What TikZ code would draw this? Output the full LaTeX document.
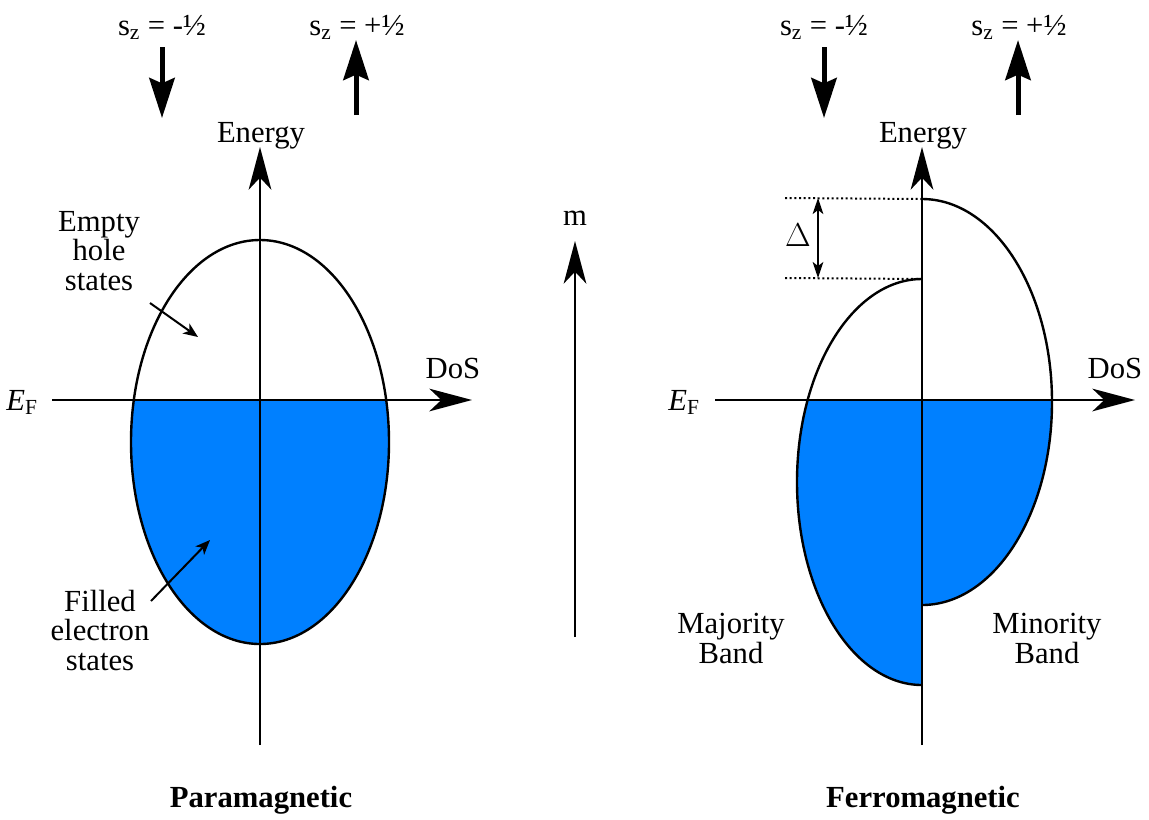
\documentclass[tikz,border=0pt]{standalone}
\usepackage{fontspec}
\setmainfont{Liberation Serif}
\usetikzlibrary{arrows.meta}
\definecolor{bandblue}{RGB}{0,128,255}
\begin{document}
\begin{tikzpicture}[x=0.75pt,y=-0.75pt,
 txt/.style={font=\fontsize{23}{21.8}\selectfont, inner sep=0pt},
 btxt/.style={font=\fontsize{23}{21.8}\selectfont\bfseries, inner sep=0pt},
 axis/.style={line width=1.5pt, -{Stealth[length=32pt,width=17pt,inset=9pt]}},
 spin/.style={line width=3.75pt, -{Stealth[length=30pt,width=19pt,inset=4pt]}},
 band/.style={line width=1.8pt},
 pointer/.style={line width=1.5pt, -{Stealth[length=11pt,width=9pt,inset=3pt]}},
 gap/.style={line width=1.5pt, {Stealth[length=12pt,width=8pt,inset=3pt]}-{Stealth[length=12pt,width=8pt,inset=3pt]}},
 level/.style={line width=1.5pt, dotted},
]
\useasboundingbox (0,0) rectangle (1149,819);

% ---------- Paramagnetic band ----------
\begin{scope}
  \clip (0,400) rectangle (1149,819);
  \fill[bandblue] (260,442) ellipse [x radius=96.75pt, y radius=151.5pt];
\end{scope}
\draw[band] (260,442) ellipse [x radius=96.75pt, y radius=151.5pt];

% ---------- Ferromagnetic bands ----------
\begin{scope}
  \clip (922,400) rectangle (1149,819);
  \fill[bandblue] (922,402) ellipse [x radius=97.5pt, y radius=152.25pt];
\end{scope}
\begin{scope}
  \clip (0,400) rectangle (922,819);
  \fill[bandblue] (922,482) ellipse [x radius=93.75pt, y radius=152.25pt];
\end{scope}
\coordinate (mintop) at (922,199);
\coordinate (majtop) at (922,279);
\draw[band] (mintop) arc[start angle=90, end angle=-90, x radius=97.5pt, y radius=152.25pt];
\draw[band] (majtop) arc[start angle=90, end angle=270, x radius=93.75pt, y radius=152.25pt];

% ---------- Axes ----------
\coordinate (Lb) at (260,745); \coordinate (Lt) at (260,147);
\coordinate (Ll) at (52,400);  \coordinate (Lr) at (472,400);
\coordinate (Rb) at (922,745); \coordinate (Rt) at (922,147);
\coordinate (Rl) at (715,400); \coordinate (Rr) at (1135,400);
\draw[axis] (Lb) -- (Lt);
\draw[axis] (Ll) -- (Lr);
\draw[axis] (Rb) -- (Rt);
\draw[axis] (Rl) -- (Rr);

% ---------- magnetisation ----------
\coordinate (mb) at (575,637); \coordinate (mt) at (575,241);
\draw[axis] (mb) -- (mt);
\node[txt, anchor=base] (m) at (575,225) {m};

% ---------- Spin arrows ----------
\coordinate (s1a) at (162,47);  \coordinate (s1b) at (162,118);
\coordinate (s2a) at (356,115); \coordinate (s2b) at (356,40);
\coordinate (s3a) at (824,47);  \coordinate (s3b) at (824,118);
\coordinate (s4a) at (1018,115);\coordinate (s4b) at (1018,40);
\draw[spin] (s1a) -- (s1b);
\draw[spin] (s2a) -- (s2b);
\draw[spin] (s3a) -- (s3b);
\draw[spin] (s4a) -- (s4b);
\node[txt, anchor=base] (sz1) at (162,35) {s\textsubscript{z} = -½};
\node[txt, anchor=base] (sz2) at (357,35) {s\textsubscript{z} = +½};
\node[txt, anchor=base] (sz3) at (824,35) {s\textsubscript{z} = -½};
\node[txt, anchor=base] (sz4) at (1019,35) {s\textsubscript{z} = +½};

% ---------- Axis labels ----------
\node[txt, anchor=base] (enL) at (261,142) {Energy};
\node[txt, anchor=base] (enR) at (923,142) {Energy};
\node[txt, anchor=base] (dosL) at (453,378) {DoS};
\node[txt, anchor=base] (dosR) at (1115,378) {DoS};
\node[txt, anchor=base east] (efL) at (38,410) {\textit{E}\textsubscript{F}};
\node[txt, anchor=base east] (efR) at (700,410) {\textit{E}\textsubscript{F}};

% ---------- Annotations, paramagnetic ----------
\node[txt, align=center, anchor=base] (empty) at (99,290) {Empty\\hole\\states};
\node[txt, align=center, anchor=base] (filled) at (100,670) {Filled\\electron\\states};
\coordinate (p1a) at (150,303); \coordinate (p1b) at (198,337);
\coordinate (p2a) at (151,601); \coordinate (p2b) at (210,540);
\draw[pointer] (p1a) -- (p1b);
\draw[pointer] (p2a) -- (p2b);

% ---------- Exchange splitting ----------
\coordinate (l1a) at (785,198); \coordinate (l2a) at (785,278);
\draw[level] (l1a) -- (mintop);
\draw[level] (l2a) -- (majtop);
\coordinate (d1) at (818,198); \coordinate (d2) at (818,278);
\draw[gap] (d1) -- (d2);
\node[txt, anchor=base] (delta) at (798,246) {$\Delta$};

% ---------- Band labels ----------
\node[txt, align=center, anchor=base] (maj) at (731,663) {Majority\\Band};
\node[txt, align=center, anchor=base] (minr) at (1047,663) {Minority\\Band};

% ---------- Titles ----------
\node[btxt, anchor=base] (para) at (261,807) {Paramagnetic};
\node[btxt, anchor=base] (ferro) at (923,807) {Ferromagnetic};
\end{tikzpicture}
\end{document}
